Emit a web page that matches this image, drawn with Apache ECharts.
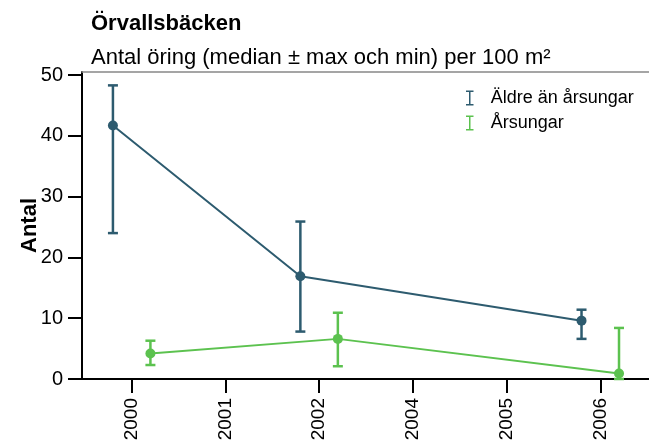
<!DOCTYPE html>
<html>
<head>
<meta charset="utf-8">
<script src="https://cdn.jsdelivr.net/npm/echarts@6/dist/echarts.min.js"></script>
<style>html,body{margin:0;padding:0;background:#fff}#c{width:649px;height:446px}</style>
</head>
<body>
<div id="c"></div>
<script>
const categories = ['2000', '2001', '2002', '2004', '2005', '2006'];
const yTicks = [0, 10, 20, 30, 40, 50];
const seriesNames = ['Äldre än årsungar', 'Årsungar'];
// category index of each observation
const obsIndex = [0, 2, 5];
const olderMedian = [41.7, 16.9, 9.6];
const olderMax = [48.3, 25.9, 11.4];
const olderMin = [24.0, 7.8, 6.6];
const youngMedian = [4.2, 6.6, 0.9];
const youngMax = [6.3, 10.9, 8.4];
const youngMin = [2.3, 2.1, 0];
const dodge = 0.2;

const colors = ['#2d5b6f', '#5cc24f'];
const FONT = 'Liberation Sans, Arial, sans-serif';

function pts(med, off) { return obsIndex.map((c, i) => [c + off, med[i]]); }
function errs(mn, mx, off) { return obsIndex.map((c, i) => [c + off, mn[i], mx[i]]); }

function errorSeries(name, color, data) {
  return {
    name: name,
    type: 'custom',
    z: 3,
    data: data,
    encode: { x: 0, y: [1, 2] },
    renderItem: function (params, api) {
      const x = api.value(0);
      const lo = api.coord([x, api.value(1)]);
      const hi = api.coord([x, api.value(2)]);
      const hw = 5;
      const style = { stroke: color, lineWidth: 2.5, fill: null };
      return {
        type: 'group',
        children: [
          { type: 'line', shape: { x1: lo[0], y1: lo[1], x2: hi[0], y2: hi[1] }, style: style },
          { type: 'line', shape: { x1: lo[0] - hw, y1: lo[1], x2: lo[0] + hw, y2: lo[1] }, style: style },
          { type: 'line', shape: { x1: hi[0] - hw, y1: hi[1], x2: hi[0] + hw, y2: hi[1] }, style: style }
        ]
      };
    }
  };
}

const iconPath = 'path://M0,0h10v2h-4v16h4v2h-10v-2h4v-16h-4z';

const chart = echarts.init(document.getElementById('c'));
chart.setOption({
  animation: false,
  textStyle: { fontFamily: FONT },
  title: [
    { text: 'Örvallsbäcken', left: 86, top: 8, textStyle: { fontFamily: FONT, fontSize: 22, fontWeight: 'bold', color: '#000' } },
    { text: 'Antal öring (median ± max och min) per 100 m²', left: 86, top: 42, textStyle: { fontFamily: FONT, fontSize: 22, fontWeight: 'normal', color: '#000' } }
  ],
  legend: {
    data: seriesNames.map((n) => ({ name: n, icon: iconPath })),
    orient: 'vertical',
    left: 461,
    top: 84,
    itemWidth: 10,
    itemHeight: 15,
    itemGap: 7,
    textStyle: { fontFamily: FONT, fontSize: 18, color: '#000', padding: [0, 0, 0, 11] }
  },
  grid: { left: 82, right: 0, top: 72, bottom: 67 },
  xAxis: [{
    type: 'value',
    min: -0.53,
    max: 5.52,
    axisLine: { show: true, onZero: false, lineStyle: { color: '#000', width: 2 } },
    axisTick: { show: true, length: 14, lineStyle: { color: '#000', width: 2 }, customValues: [0, 1, 2, 3, 4, 5] },
    axisLabel: {
      customValues: [0, 1, 2, 3, 4, 5],
      formatter: (v) => categories[Math.round(v)] || '',
      rotate: 90, margin: 19, fontSize: 19, color: '#000', fontFamily: FONT
    },
    splitLine: { show: false }
  }, {
    type: 'value',
    position: 'top',
    min: -0.53,
    max: 5.52,
    axisLine: { show: true, onZero: false, lineStyle: { color: '#888', width: 1.5 } },
    axisTick: { show: false },
    axisLabel: { show: false },
    splitLine: { show: false }
  }],
  yAxis: {
    type: 'value',
    min: 0,
    max: 50.5,
    name: 'Antal',
    nameLocation: 'middle',
    nameGap: 41,
    nameMoveOverlap: false,
    nameTextStyle: { fontFamily: FONT, fontSize: 22, fontWeight: 'bold', color: '#000' },
    axisLine: { show: true, onZero: false, lineStyle: { color: '#000', width: 2 } },
    axisTick: { show: true, length: 14, lineStyle: { color: '#000', width: 2 }, customValues: yTicks },
    axisLabel: { customValues: yTicks, margin: 19, fontSize: 20, color: '#000', fontFamily: FONT },
    splitLine: { show: false }
  },
  series: [
    {
      name: seriesNames[0], type: 'line', data: pts(olderMedian, -dodge), z: 4,
      symbol: 'circle', symbolSize: 10, color: colors[0],
      lineStyle: { width: 2, color: colors[0] }, itemStyle: { color: colors[0] }
    },
    errorSeries(seriesNames[0], colors[0], errs(olderMin, olderMax, -dodge)),
    {
      name: seriesNames[1], type: 'line', data: pts(youngMedian, dodge), z: 4,
      symbol: 'circle', symbolSize: 10, color: colors[1],
      lineStyle: { width: 2, color: colors[1] }, itemStyle: { color: colors[1] }
    },
    errorSeries(seriesNames[1], colors[1], errs(youngMin, youngMax, dodge))
  ]
});
</script>
</body>
</html>
